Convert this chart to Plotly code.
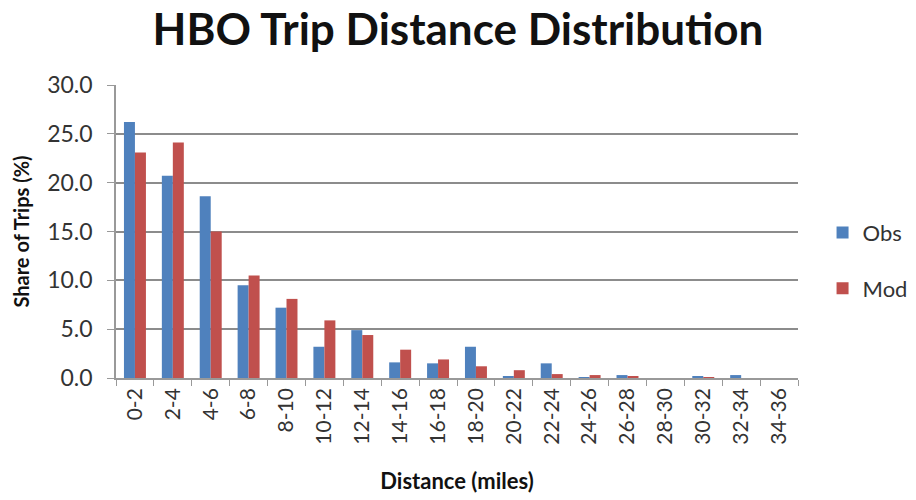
import plotly.graph_objects as go

# Distance bins (miles) and share of trips (%) per bin
distance_bins = ["0-2", "2-4", "4-6", "6-8", "8-10", "10-12", "12-14", "14-16", "16-18",
                 "18-20", "20-22", "22-24", "24-26", "26-28", "28-30", "30-32", "32-34", "34-36"]
obs_share = [26.2, 20.7, 18.6, 9.5, 7.2, 3.2, 4.9, 1.6, 1.5,
             3.2, 0.15, 1.5, 0.05, 0.3, 0.0, 0.15, 0.3, 0.0]
mod_share = [23.1, 24.1, 15.0, 10.5, 8.1, 5.9, 4.4, 2.9, 1.9,
             1.2, 0.8, 0.4, 0.3, 0.2, 0.0, 0.05, 0.0, 0.0]
y_ticks = [0, 5, 10, 15, 20, 25, 30]

FONT = "Lato, 'Open Sans', sans-serif"

fig = go.Figure()
fig.add_trace(go.Bar(x=distance_bins, y=obs_share, name="Obs", legendgroup="obs",
                     marker=dict(color="#4F81BD", line=dict(width=0))))
fig.add_trace(go.Bar(x=distance_bins, y=mod_share, name="Mod", legendgroup="mod",
                     marker=dict(color="#C0504D", line=dict(width=0))))

fig.update_layout(
    width=916, height=500,
    margin=dict(l=116, r=118, t=85, b=122, autoexpand=False),
    paper_bgcolor="white", plot_bgcolor="white",
    barmode="group", bargap=0.42, bargroupgap=0,
    title=dict(text="<b>HBO Trip Distance Distribution</b>", x=0.5, xanchor="center",
               y=0.94, yanchor="middle",
               font=dict(family=FONT, size=44, color="#111111")),
    legend=dict(x=1.036, y=0.40, xanchor="left", yanchor="middle",
                font=dict(family=FONT, size=22, color="#333333"),
                traceorder="grouped", tracegroupgap=24,
                bgcolor="rgba(0,0,0,0)"),
    font=dict(family=FONT, color="#333333"),
)

fig.update_xaxes(
    type="category", tickson="boundaries", ticks="outside", ticklen=6,
    tickcolor="#999999", showline=True, linecolor="#999999", linewidth=1.5,
    tickangle=-90, tickfont=dict(family=FONT, size=21, color="#333333"),
    title=dict(text="<b>Distance (miles)</b>", font=dict(family=FONT, size=22, color="#111111"),
               standoff=30),
    showgrid=False,
)
fig.update_yaxes(
    range=[0, 30], tickvals=y_ticks, tickformat=".1f",
    ticks="outside", ticklen=7, tickcolor="#999999",
    ticklabelstandoff=10,
    showline=True, linecolor="#999999", linewidth=1.5,
    showgrid=True, gridcolor="#8c8c8c", gridwidth=1.5,
    zeroline=False,
    tickfont=dict(family=FONT, size=23, color="#333333"),
    title=dict(text="<b>Share of Trips (%)</b>", font=dict(family=FONT, size=20, color="#111111"),
               standoff=12),
)

fig.write_html("out.html")
